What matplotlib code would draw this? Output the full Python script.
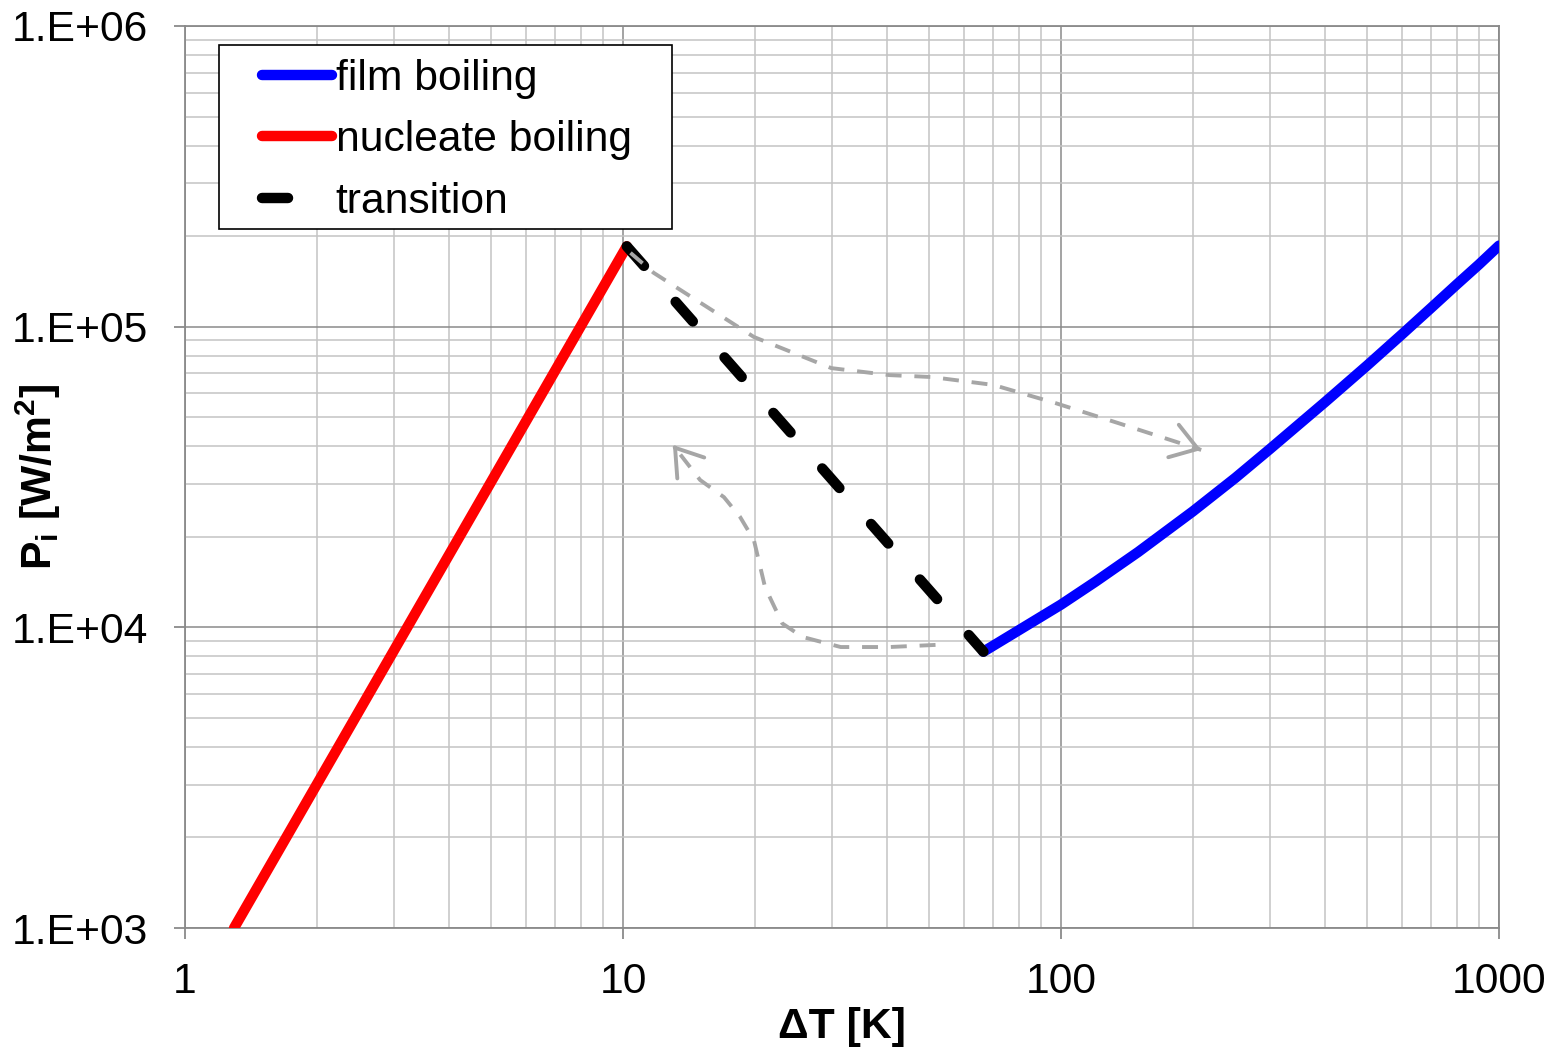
import numpy as np
import matplotlib
matplotlib.use("Agg")
import matplotlib.pyplot as plt
from matplotlib.patches import Rectangle

plt.rcParams['font.family'] = ['Liberation Sans', 'DejaVu Sans']
plt.rcParams['font.size'] = 30.7

# nucleate boiling
nuc_dT = [1.294, 10.2]
nuc_P = [1.0e3, 1.85e5]
# transition
tr_dT = [10.2, 66.5]
tr_P = [1.85e5, 8.3e3]
# film boiling
film_dT = [66.5, 80, 100, 120, 150, 200, 250, 300, 400, 500, 600, 700, 800, 900, 1000]
film_P = [8.3e3, 9.77e3, 1.19e4, 1.42e4, 1.78e4, 2.43e4, 3.14e4, 3.92e4, 5.6e4,
          7.43e4, 9.42e4, 1.155e5, 1.38e5, 1.61e5, 1.86e5]
# grey arrows (heating / cooling path)
up_dT = [10.4, 11.75, 19.9, 29.9, 40.6, 50.6, 70.1, 97.1, 135, 209]
up_P = [1.76e5, 1.51e5, 9.24e4, 7.28e4, 6.9e4, 6.8e4, 6.4e4, 5.57e4, 4.78e4, 3.89e4]
down_dT = [51.7, 40.6, 31.4, 25.7, 23.1, 21.1, 19.9, 18.5, 17.0, 15.0, 13.0]
down_P = [8.74e3, 8.6e3, 8.6e3, 9.29e3, 1.03e4, 1.36e4, 1.95e4, 2.33e4, 2.71e4,
          3.09e4, 4.04e4]

yticks = [1e3, 1e4, 1e5, 1e6]
ylabels = ['1.E+03', '1.E+04', '1.E+05', '1.E+06']
xticks = [1, 10, 100, 1000]
xlabels = ['1', '10', '100', '1000']

fig = plt.figure(figsize=(15.6, 10.48), dpi=100)
ax = fig.add_axes([0.1186, 0.1145, 0.8423, 0.8607])
ax.set_xscale('log')
ax.set_yscale('log')
ax.set_xlim(1, 1000)
ax.set_ylim(1e3, 1e6)

ax.grid(True, which='major', color='#8a8a8a', lw=1.1)
ax.grid(True, which='minor', color='#c4c4c4', lw=1.1)
ax.set_axisbelow(True)
for s in ax.spines.values():
    s.set_color('#8a8a8a')
    s.set_linewidth(1.3)

ax.set_xticks(xticks, xlabels)
ax.set_yticks(yticks, ylabels)
ax.tick_params(which='major', length=8, width=1.3, color='#8a8a8a')
ax.tick_params(axis='x', which='major', pad=16.5)
ax.tick_params(axis='y', which='major', pad=18.5)
ax.tick_params(which='minor', length=0)

lw = 7.5
l_film, = ax.plot(film_dT, film_P, color='#0000ff', lw=lw, solid_capstyle='round',
                  solid_joinstyle='round', label='film boiling', zorder=3)
l_nuc, = ax.plot(nuc_dT, nuc_P, color='#ff0000', lw=lw, solid_capstyle='round',
                 label='nucleate boiling', zorder=3)
l_tr, = ax.plot(tr_dT, tr_P, color='black', lw=lw, dashes=(2.5, 4.6),
                dash_capstyle='round', label='transition', zorder=3)

grey = '#a6a6a6'
for xs, ys in [(up_dT, up_P), (down_dT, down_P)]:
    ax.plot(xs, ys, color=grey, lw=2.8, dashes=(4.1, 3.3), zorder=4)
    p1 = ax.transData.transform((xs[-2], ys[-2]))
    p2 = ax.transData.transform((xs[-1], ys[-1]))
    d = (p2 - p1) / np.hypot(*(p2 - p1)) * 4
    ax.annotate('', xy=(xs[-1], ys[-1]), xytext=(-d[0], -d[1]),
                textcoords='offset pixels',
                arrowprops=dict(arrowstyle='->,head_length=0.6,head_width=0.4',
                                color=grey, lw=2.8, shrinkA=0, shrinkB=0),
                zorder=4)

ax.set_xlabel('ΔT [K]', fontweight='bold')
ax.set_ylabel(r'P$_\mathregular{i}$ [W/m$^\mathregular{2}$]', fontweight='bold')
ax.xaxis.set_label_coords(0.5, -0.0875)
ax.yaxis.set_label_coords(-0.093, 0.5)

ax.add_patch(Rectangle((0.0259, 0.7749), 0.3447, 0.204, transform=ax.transAxes,
                       facecolor='white', edgecolor='black', lw=1.2, zorder=5))
leg = ax.legend(handles=[l_film, l_nuc, l_tr], loc='upper left',
                bbox_to_anchor=(0.0586, 0.9634), borderpad=0, borderaxespad=0,
                frameon=False, handlelength=1.63, handletextpad=0.1,
                labelspacing=0.5)
leg.set_zorder(6)

fig.savefig('out.png', dpi=100)
